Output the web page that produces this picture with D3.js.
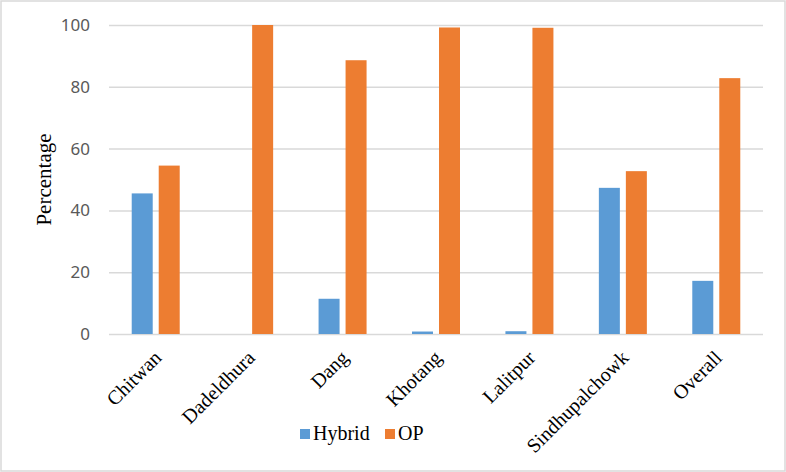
<!DOCTYPE html>
<html>
<head>
<meta charset="utf-8">
<script src="https://cdn.jsdelivr.net/npm/d3@7"></script>
<style>
  body { margin: 0; background: #fff; }
  svg { display: block; }
</style>
</head>
<body>
<svg id="chart" width="786" height="472"></svg>
<script>
// data
let districts = ['Chitwan', 'Dadeldhura', 'Dang', 'Khotang', 'Lalitpur', 'Sindhupalchowk', 'Overall']
let hybrid = [45.5, 0, 11.4, 0.8, 0.9, 47.3, 17.2]
let op = [54.5, 100, 88.6, 99.2, 99.1, 52.7, 82.8]
let seriesNames = ['Hybrid', 'OP']
let yTicks = [0, 20, 40, 60, 80, 100]

let colors = { Hybrid: '#5b9bd5', OP: '#ed7d31' }

let svg = d3.select('#chart')
let width = 786
let height = 472
let margin = { top: 25, right: 23, bottom: 138, left: 109 }

// outer border
svg.append('rect')
    .attr('x', 1)
    .attr('y', 1)
    .attr('width', width - 2)
    .attr('height', height - 2)
    .attr('fill', '#fff')
    .attr('stroke', '#d9d9d9')
    .attr('stroke-width', 1.5)

let x = d3.scaleBand()
    .domain(districts)
    .range([margin.left, width - margin.right])

// two bars of 21px with a 6px gap, centred in each band
let xInner = d3.scaleBand()
    .domain(seriesNames)
    .range([x.bandwidth() / 2 - 24, x.bandwidth() / 2 + 24])
    .paddingInner(6 / 27)

let y = d3.scaleLinear()
    .domain([0, 100])
    .range([height - margin.bottom, margin.top])

// gridlines
let yAxis = d3.axisLeft(y)
    .tickValues(yTicks)
    .tickSize(-(width - margin.left - margin.right))
    .tickPadding(19)

let gy = svg.append('g')
    .attr('transform', `translate(${margin.left}, 0)`)
    .call(yAxis)
gy.select('.domain').remove()
gy.selectAll('.tick line')
    .attr('stroke', '#d9d9d9')
    .attr('stroke-width', 1.5)
gy.selectAll('.tick text')
    .attr('fill', '#595959')
    .style('font-family', '"Noto Sans", sans-serif')
    .style('font-size', '17px')

// bars
let rows = districts.map((d, i) => {
    return { district: d, values: [{ key: 'Hybrid', value: hybrid[i] }, { key: 'OP', value: op[i] }] }
})

let groups = svg.selectAll('g.group')
    .data(rows)
    .enter()
    .append('g')
    .attr('class', 'group')
    .attr('transform', item => `translate(${x(item.district)}, 0)`)

groups.selectAll('rect')
    .data(item => item.values)
    .enter()
    .append('rect')
    .attr('x', item => xInner(item.key))
    .attr('width', xInner.bandwidth())
    .attr('y', item => y(item.value))
    .attr('height', item => y(0) - y(item.value))
    .attr('fill', item => colors[item.key])

// category labels
svg.selectAll('text.cat')
    .data(districts)
    .enter()
    .append('text')
    .attr('class', 'cat')
    .attr('transform', d => `translate(${x(d) + x.bandwidth() / 2 + 2}, 354) rotate(-45)`)
    .attr('text-anchor', 'end')
    .attr('dy', '0.35em')
    .style('font-family', '"Liberation Serif", "Times New Roman", serif')
    .style('font-size', '20px')
    .attr('fill', '#000')
    .text(d => d)

// y label
svg.append('text')
    .attr('transform', `translate(51, ${(margin.top + height - margin.bottom) / 2}) rotate(-90)`)
    .attr('text-anchor', 'middle')
    .style('font-family', '"Liberation Serif", "Times New Roman", serif')
    .style('font-size', '21px')
    .text('Percentage')

// legend
let legend = svg.append('g')
    .attr('transform', 'translate(300, 429)')

let legendX = [0, 85]
seriesNames.forEach((name, i) => {
    legend.append('rect')
        .attr('x', legendX[i])
        .attr('y', 0)
        .attr('width', 10)
        .attr('height', 10)
        .attr('fill', colors[name])
    legend.append('text')
        .attr('x', legendX[i] + 13)
        .attr('y', 11)
        .style('font-family', '"Liberation Serif", "Times New Roman", serif')
        .style('font-size', '20px')
        .text(name)
})
</script>
</body>
</html>
